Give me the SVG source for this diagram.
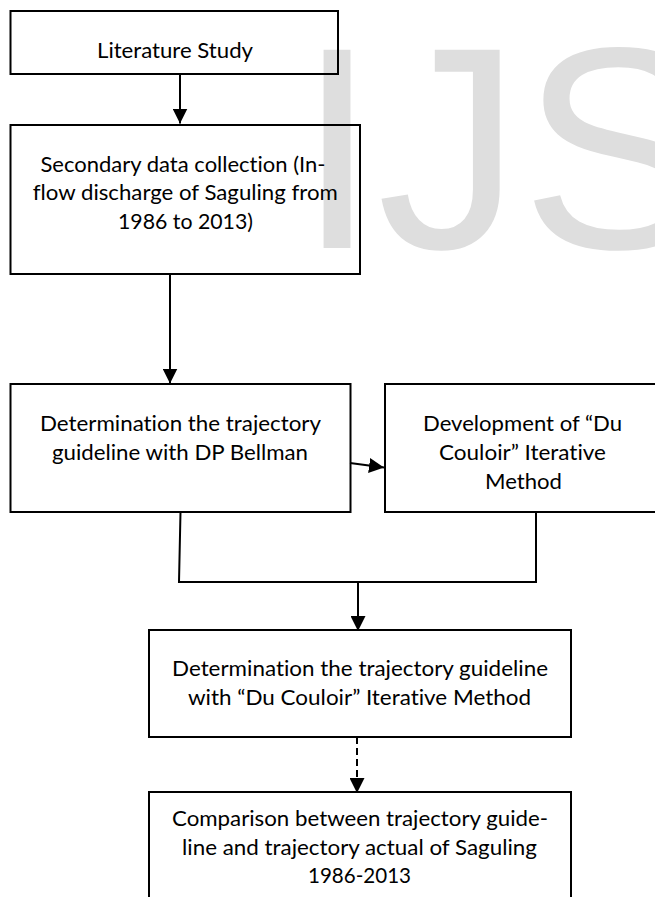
<svg xmlns="http://www.w3.org/2000/svg" width="655" height="897" viewBox="0 0 655 897">
<style>
.box{fill:none;stroke:#000;stroke-width:2}
.lbl{font-family:Lato,"Liberation Sans",sans-serif;font-size:22px;fill:#000;text-anchor:middle;font-variant-ligatures:none}
.wm{font-family:"Liberation Sans",Arial,sans-serif;font-size:288px;fill:#dedede}
.con{fill:none;stroke:#000;stroke-width:2}
.dash{stroke-dasharray:7 4}
</style>
<defs>
<marker id="ah" markerUnits="userSpaceOnUse" markerWidth="15" markerHeight="15" viewBox="0 0 15 15" refX="15" refY="7.5" orient="auto">
<path d="M0,0 L15,7.5 L0,15 z" fill="#000"/>
</marker>
</defs>
<rect width="655" height="897" fill="#fff"/>
<text class="wm" x="297" y="248">IJS</text>
<g id="connectors">
<path class="con" d="M180,74 L180,123.5" marker-end="url(#ah)"/>
<path class="con" d="M170,274 L170,383.5" marker-end="url(#ah)"/>
<path class="con" d="M350,463 L384,467.5" marker-end="url(#ah)"/>
<path class="con" d="M180.5,512 L179,582 L536,582 L536,512"/>
<path class="con" d="M358,582 L358,631" marker-end="url(#ah)"/>
<path class="con dash" d="M357,737 L357,793" marker-end="url(#ah)"/>
</g>
<g id="n1">
<rect class="box" x="10.5" y="11" width="327.5" height="63"/>
<text class="lbl" x="175" y="58" textLength="156" lengthAdjust="spacingAndGlyphs">Literature Study</text>
</g>
<g id="n2">
<rect class="box" x="10.5" y="125" width="349.5" height="149"/>
<text class="lbl" x="183" y="171.5" textLength="285" lengthAdjust="spacingAndGlyphs">Secondary data collection (In-</text>
<text class="lbl" x="185.3" y="200.2" textLength="305" lengthAdjust="spacingAndGlyphs">flow discharge of Saguling from</text>
<text class="lbl" x="185.5" y="229" textLength="135" lengthAdjust="spacingAndGlyphs">1986 to 2013)</text>
</g>
<g id="n3">
<rect class="box" x="10.5" y="384" width="340" height="128"/>
<text class="lbl" x="180.5" y="431" textLength="281" lengthAdjust="spacingAndGlyphs">Determination the trajectory</text>
<text class="lbl" x="180" y="460" textLength="256" lengthAdjust="spacingAndGlyphs">guideline with DP Bellman</text>
</g>
<g id="n4">
<rect class="box" x="385" y="384" width="280" height="128"/>
<text class="lbl" x="522.5" y="431" textLength="199" lengthAdjust="spacingAndGlyphs">Development of “Du</text>
<text class="lbl" x="522.5" y="460" textLength="167" lengthAdjust="spacingAndGlyphs">Couloir” Iterative</text>
<text class="lbl" x="523.5" y="488.5" textLength="77" lengthAdjust="spacingAndGlyphs">Method</text>
</g>
<g id="n5">
<rect class="box" x="149" y="630" width="422" height="107"/>
<text class="lbl" x="360" y="676" textLength="376" lengthAdjust="spacingAndGlyphs">Determination the trajectory guideline</text>
<text class="lbl" x="359.5" y="705" textLength="343" lengthAdjust="spacingAndGlyphs">with “Du Couloir” Iterative Method</text>
</g>
<g id="n6">
<rect class="box" x="149" y="792" width="422" height="120"/>
<text class="lbl" x="360" y="826" textLength="376" lengthAdjust="spacingAndGlyphs">Comparison between trajectory guide-</text>
<text class="lbl" x="359.5" y="854.5" textLength="355" lengthAdjust="spacingAndGlyphs">line and trajectory actual of Saguling</text>
<text class="lbl" x="359.5" y="883" textLength="103" lengthAdjust="spacingAndGlyphs">1986-2013</text>
</g>
</svg>
